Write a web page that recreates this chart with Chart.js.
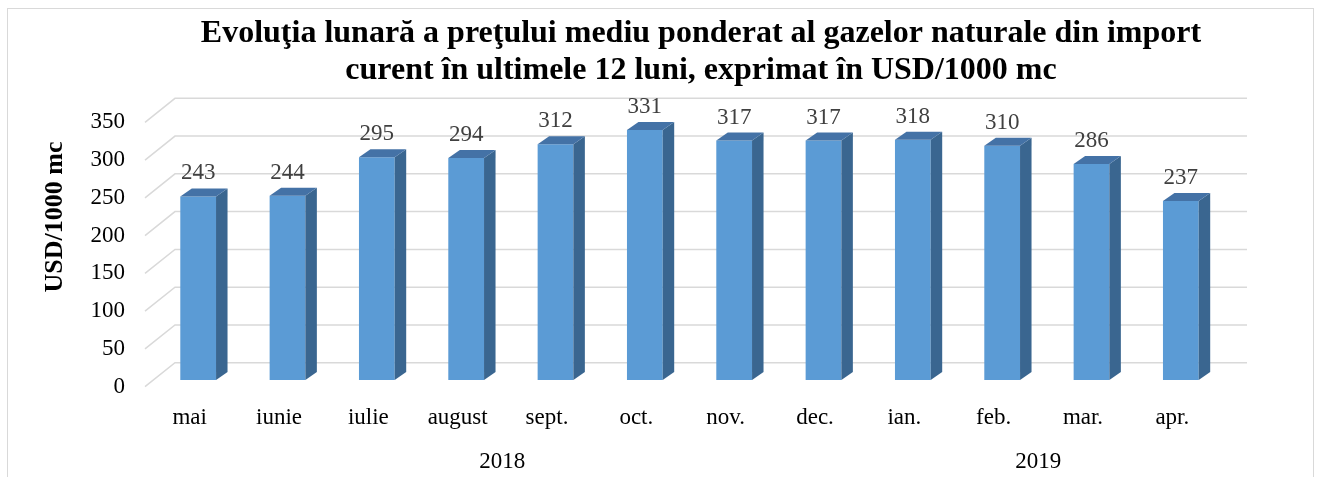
<!DOCTYPE html>
<html lang="ro">
<head>
<meta charset="utf-8">
<title>Evoluţia lunară a preţului mediu ponderat al gazelor naturale</title>
<script src="https://cdn.jsdelivr.net/npm/chart.js@4.4.1/dist/chart.umd.min.js"></script>
<style>
  html, body { margin: 0; padding: 0; background: #fff; }
  canvas { display: block; }
</style>
</head>
<body>
<canvas id="gasChart" width="1320" height="477"></canvas>
<script>
// --- date ---
const months = ['mai', 'iunie', 'iulie', 'august', 'sept.', 'oct.', 'nov.', 'dec.', 'ian.', 'feb.', 'mar.', 'apr.'];
const prices = [243, 244, 295, 294, 312, 331, 317, 317, 318, 310, 286, 237];
const years = ['2018', '2019'];
const monthsPerYear = [8, 4];
const titleLines = [
  'Evoluţia lunară a preţului mediu ponderat al gazelor naturale din import',
  'curent în ultimele 12 luni, exprimat în USD/1000 mc'
];
const yAxisTitle = 'USD/1000 mc';
const yMin = 0, yMax = 350, yStep = 50;

// --- stil ---
const SERIF = '"Liberation Serif", "Times New Roman", serif';
const FRONT = '#5B9BD5', SIDE = '#3A6690', TOP = '#4472A6';
const GRID = '#D9D9D9';
const DEPTH_X = 11.5, DEPTH_Y = 8;   // fata laterala / capacul barei
const WALL_X = 30, WALL_Y = 24;      // peretele din spate
const SHIFT_X = 8.5, SHIFT_Y = -6.7; // barele stau putin in spatele marginii podelei

const excel3d = {
  id: 'excel3d',
  beforeDraw(chart) {
    const ctx = chart.ctx;
    ctx.save();
    ctx.strokeStyle = GRID;
    ctx.lineWidth = 1;
    ctx.strokeRect(7.5, 8.5, 1306, 500);

    ctx.fillStyle = '#000';
    ctx.textAlign = 'center';
    ctx.textBaseline = 'middle';
    ctx.font = 'bold 32px ' + SERIF;
    titleLines.forEach((t, i) => ctx.fillText(t, 701, 34 + i * 37));

    ctx.translate(55, 217);
    ctx.rotate(-Math.PI / 2);
    ctx.font = 'bold 26px ' + SERIF;
    ctx.fillText(yAxisTitle, 0, 0);
    ctx.restore();
  },
  beforeDatasetsDraw(chart) {
    const { ctx, chartArea, scales: { y } } = chart;
    ctx.save();
    ctx.strokeStyle = GRID;
    ctx.lineWidth = 1.5;
    y.ticks.forEach(t => {
      const py = y.getPixelForValue(t.value);
      ctx.beginPath();
      ctx.moveTo(chartArea.left, py);
      ctx.lineTo(chartArea.left + WALL_X, py - WALL_Y);
      ctx.lineTo(chartArea.right + WALL_X, py - WALL_Y);
      ctx.stroke();
    });
    ctx.restore();
    // barele se deseneaza deplasate (perspectiva)
    ctx.save();
    ctx.translate(SHIFT_X, SHIFT_Y);
  },
  afterDatasetsDraw(chart) {
    const ctx = chart.ctx;
    const meta = chart.getDatasetMeta(0);
    meta.data.forEach((bar, i) => {
      const l = bar.x - bar.width / 2;
      const r = bar.x + bar.width / 2;

      ctx.fillStyle = SIDE;
      ctx.beginPath();
      ctx.moveTo(r, bar.y);
      ctx.lineTo(r + DEPTH_X, bar.y - DEPTH_Y);
      ctx.lineTo(r + DEPTH_X, bar.base - DEPTH_Y);
      ctx.lineTo(r, bar.base);
      ctx.closePath();
      ctx.fill();

      ctx.fillStyle = TOP;
      ctx.beginPath();
      ctx.moveTo(l, bar.y);
      ctx.lineTo(l + DEPTH_X, bar.y - DEPTH_Y);
      ctx.lineTo(r + DEPTH_X, bar.y - DEPTH_Y);
      ctx.lineTo(r, bar.y);
      ctx.closePath();
      ctx.fill();

      ctx.fillStyle = '#404040';
      ctx.font = '23px ' + SERIF;
      ctx.textAlign = 'center';
      ctx.textBaseline = 'alphabetic';
      ctx.fillText(String(prices[i]), bar.x, bar.y - 17);
    });
    ctx.restore();
  },
  afterDraw(chart) {
    const { ctx, scales: { x } } = chart;
    ctx.save();
    ctx.fillStyle = '#000';
    ctx.font = '23px ' + SERIF;
    ctx.textAlign = 'center';
    ctx.textBaseline = 'alphabetic';
    let start = 0;
    years.forEach((yr, k) => {
      const end = start + monthsPerYear[k] - 1;
      const cx = (x.getPixelForValue(start) + x.getPixelForValue(end)) / 2;
      ctx.fillText(yr, cx, 468);
      start = end + 1;
    });
    ctx.restore();
  }
};

const ctx = document.getElementById('gasChart').getContext('2d');
new Chart(ctx, {
  type: 'bar',
  data: {
    labels: months,
    datasets: [{
      data: prices,
      backgroundColor: FRONT,
      borderWidth: 0,
      barPercentage: 0.4,
      categoryPercentage: 1,
      clip: false
    }]
  },
  options: {
    responsive: false,
    animation: false,
    layout: { padding: { top: 122.3, right: 103, bottom: 0, left: 0 } },
    plugins: {
      legend: { display: false },
      title: { display: false },
      tooltip: { enabled: false }
    },
    scales: {
      x: {
        grid: { display: false },
        border: { display: false },
        ticks: {
          autoSkip: false,
          maxRotation: 0,
          padding: 9,
          color: '#000',
          font: { family: SERIF, size: 23 }
        },
        afterFit: scale => { scale.height = 90.3; }
      },
      y: {
        min: yMin,
        max: yMax,
        grid: { display: false },
        border: { display: false },
        ticks: {
          stepSize: yStep,
          padding: 12,
          color: '#000',
          font: { family: SERIF, size: 23 }
        },
        afterFit: scale => { scale.width = 145; }
      }
    }
  },
  plugins: [excel3d]
});
</script>
</body>
</html>
